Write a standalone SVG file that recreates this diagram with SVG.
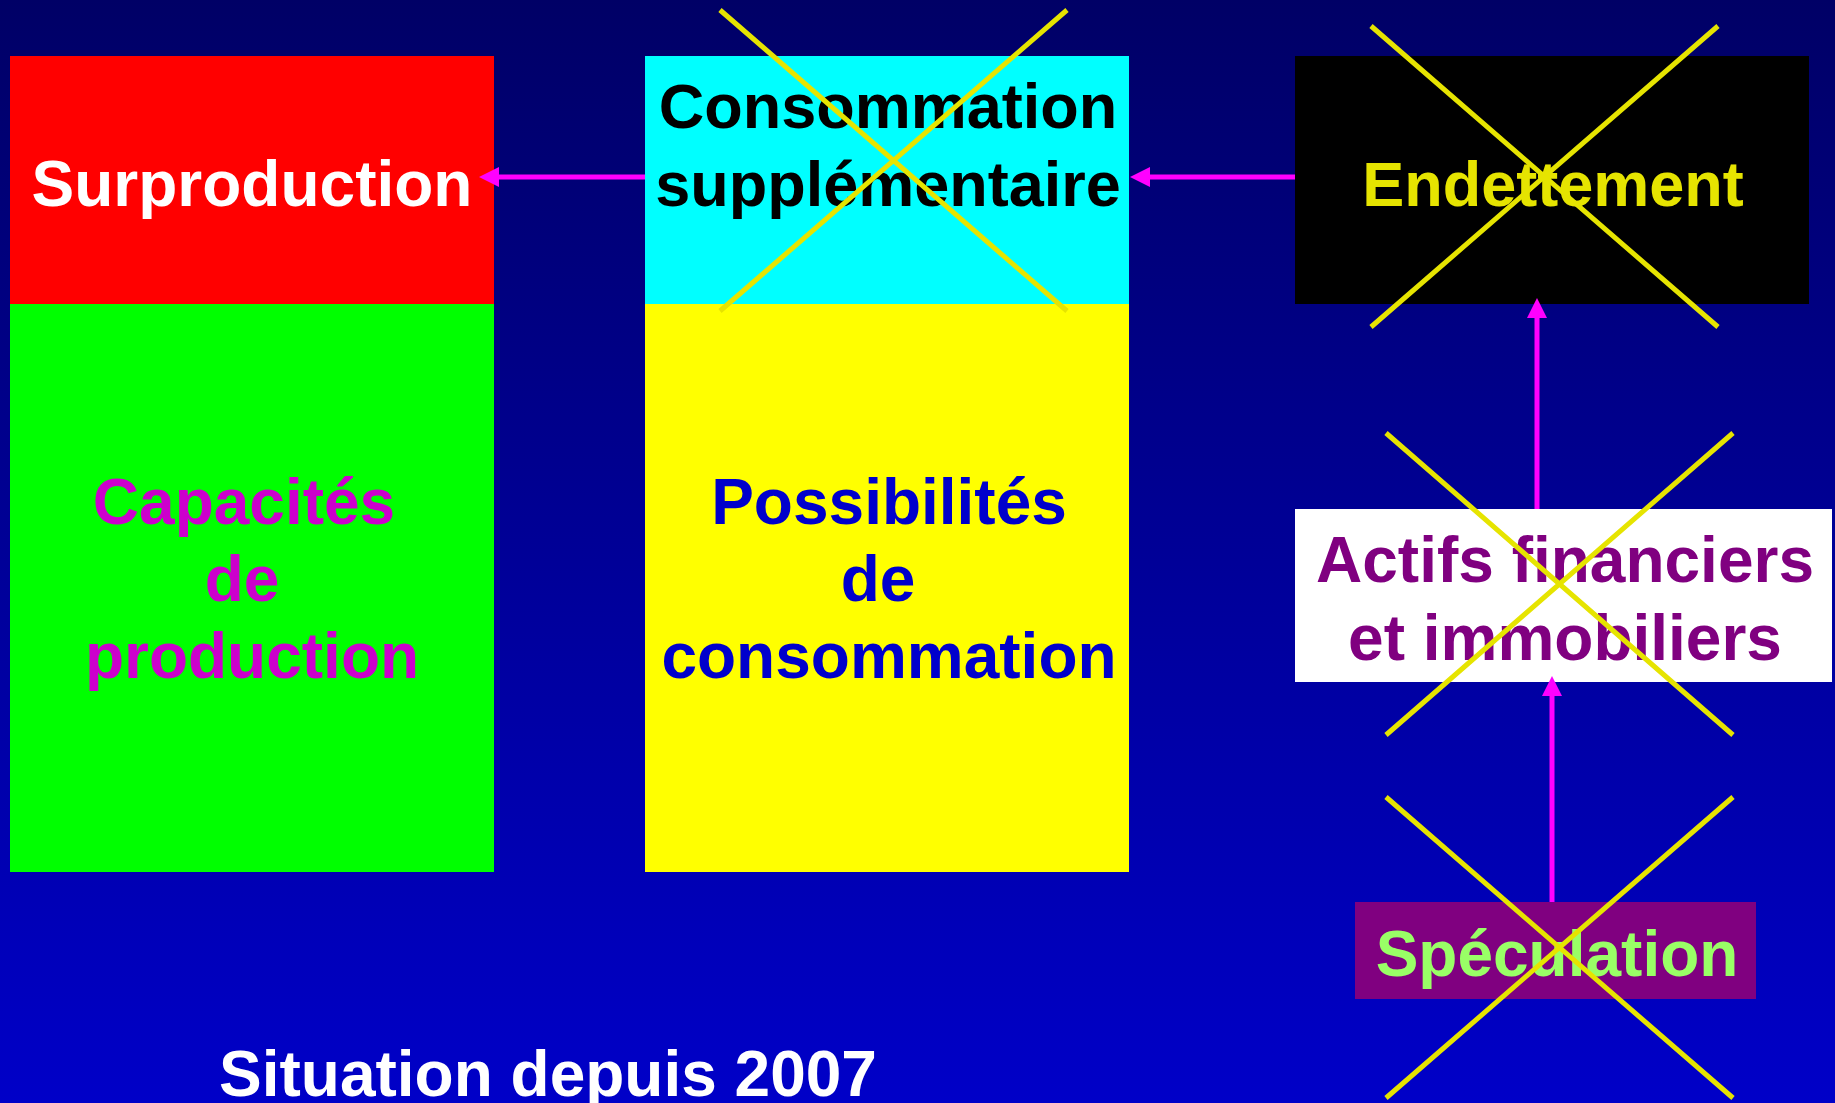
<svg xmlns="http://www.w3.org/2000/svg" width="1835" height="1103" viewBox="0 0 1835 1103">
  <defs>
    <linearGradient id="bg" x1="0" y1="0" x2="0" y2="1">
      <stop offset="0" stop-color="#000066"/>
      <stop offset="1" stop-color="#0000C8"/>
    </linearGradient>
    <marker id="head" viewBox="0 0 20 20" refX="10" refY="10" markerWidth="20" markerHeight="20" markerUnits="userSpaceOnUse" orient="auto">
      <path d="M0,0 L20,10 L0,20 z" fill="#FF00FF"/>
    </marker>
    <style>
      text { font-family: "Liberation Sans", Arial, sans-serif; font-weight: bold; font-size: 64px; }
      .mid { text-anchor: middle; }
      .link { stroke: #FF00FF; stroke-width: 5; fill: none; marker-end: url(#head); }
      .cross { stroke: #E6E400; stroke-width: 5; fill: none; }
    </style>
  </defs>

  <rect x="0" y="0" width="1835" height="1103" fill="url(#bg)"/>

  <g id="surproduction">
    <rect x="10" y="56" width="484" height="248" fill="#FF0000"/>
    <text class="mid" x="252" y="206" fill="#FFFFFF">Surproduction</text>
  </g>

  <g id="capacites">
    <rect x="10" y="304" width="484" height="568" fill="#00FF00"/>
    <text class="mid" fill="#CC00CC"><tspan x="244" y="524">Capacités</tspan><tspan x="242" y="601">de</tspan><tspan x="252" y="678">production</tspan></text>
  </g>

  <g id="consommation-supp">
    <rect x="645" y="56" width="484" height="248" fill="#00FFFF"/>
    <text class="mid" fill="#000000" style="font-size:63px"><tspan x="888" y="128">Consommation</tspan><tspan x="888" y="206">supplémentaire</tspan></text>
  </g>

  <g id="possibilites">
    <rect x="645" y="304" width="484" height="568" fill="#FFFF00"/>
    <text class="mid" fill="#0000CC"><tspan x="889" y="524">Possibilités</tspan><tspan x="878" y="601">de</tspan><tspan x="889" y="678">consommation</tspan></text>
  </g>

  <g id="endettement">
    <rect x="1295" y="56" width="514" height="248" fill="#000000"/>
    <text class="mid" x="1553" y="206" fill="#E6E400" style="font-size:63px">Endettement</text>
  </g>

  <g id="actifs">
    <rect x="1295" y="509" width="537" height="173" fill="#FFFFFF"/>
    <text class="mid" fill="#800080"><tspan x="1565" y="582">Actifs financiers</tspan><tspan x="1565" y="660">et immobiliers</tspan></text>
  </g>

  <g id="speculation">
    <rect x="1355" y="902" width="401" height="97" fill="#800080"/>
    <text class="mid" x="1557" y="976" fill="#99FF66">Spéculation</text>
  </g>

  <g id="connectors">
    <path class="link" d="M645,177 L489,177"/>
    <path class="link" d="M1295,177 L1140,177"/>
    <path class="link" d="M1537,509 L1537,308"/>
    <path class="link" d="M1552,902 L1552,686"/>
  </g>

  <!-- crossed-out elements -->
  <g id="crosses">
    <path class="cross" d="M720,10 L1067,311 M1067,10 L720,311"/>
    <path class="cross" d="M1371,26 L1718,327 M1718,26 L1371,327"/>
    <path class="cross" d="M1386,433 L1733,735 M1733,433 L1386,735"/>
    <path class="cross" d="M1386,797 L1733,1098 M1733,797 L1386,1098"/>
  </g>

  <g id="caption">
    <text x="219" y="1096" fill="#FFFFFF">Situation depuis 2007</text>
  </g>
</svg>
